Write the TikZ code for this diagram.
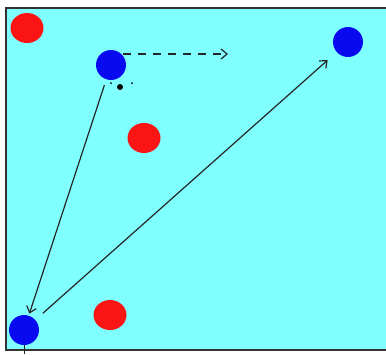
\documentclass[tikz,border=0pt]{standalone}
\usetikzlibrary{arrows.meta}
\definecolor{bgcyan}{RGB}{128,255,255}
\definecolor{redball}{RGB}{250,20,20}
\definecolor{blueball}{RGB}{10,10,240}
\tikzset{
  redp/.style={ellipse, fill=redball, draw=none, minimum width=33pt, minimum height=30pt, inner sep=0pt},
  bluep/.style={circle, fill=blueball, draw=none, minimum size=30pt, inner sep=0pt},
  conn/.style={draw=black!85, line width=1.2pt, -{Straight Barb[length=6pt,width=10pt,line width=1.2pt]}},
  tinydot/.style={circle, fill=black, inner sep=0pt, minimum size=#1},
}
\usetikzlibrary{shapes.geometric}
\begin{document}
\begin{tikzpicture}[x=1pt,y=-1pt]
\useasboundingbox (0,0) rectangle (386,354);
\fill[white] (0,0) rectangle (386,354);
\begin{scope}
\clip (0,0) rectangle (386,354);
\draw[fill=bgcyan, draw=black!80, line width=1.5pt] (6,8) rectangle (392,350);
\end{scope}
% players
\node[redp] (r1) at (27,28) {};
\node[redp] (r2) at (144,138) {};
\node[redp] (r3) at (110,315) {};
\node[bluep] (b1) at (111,65) {};
\node[bluep] (b2) at (348,42) {};
\node[bluep] (b3) at (24,330) {};
% ball and marks
\node[tinydot=6pt] (ball) at (120,87) {};
\node[tinydot=2pt] (d1) at (111,83) {};
\node[tinydot=2pt] (d2) at (132,83) {};
% connectors
\coordinate (ds) at (123,54);
\coordinate (de) at (228,54);
\draw[conn, line width=1.6pt, dash pattern=on 8pt off 7pt] (ds) -- (de);
\draw[conn, shorten <=6pt, shorten >=2pt] (b1) -- (b3);
\draw[conn, shorten <=10pt, shorten >=12pt] (b3) -- (b2);
\coordinate (t1) at (24,345);
\coordinate (t2) at (24,354);
\draw[black!85, line width=1pt] (t1) -- (t2);
\end{tikzpicture}
\end{document}
